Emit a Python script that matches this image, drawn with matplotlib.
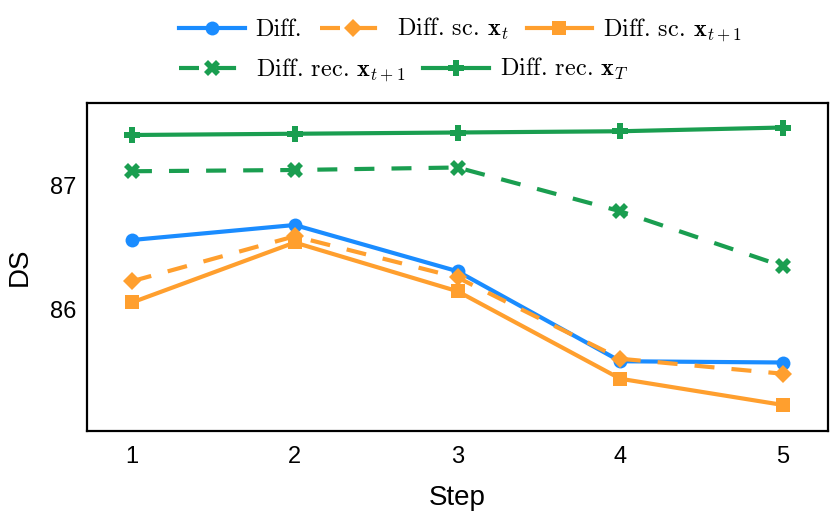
import matplotlib
matplotlib.use("Agg")
import matplotlib.pyplot as plt

steps = [1, 2, 3, 4, 5]
diff = [86.56, 86.68, 86.31, 85.59, 85.58]
diff_sc_xt = [86.23, 86.59, 86.26, 85.61, 85.49]
diff_sc_xt1 = [86.06, 86.54, 86.15, 85.45, 85.24]
diff_rec_xt1 = [87.11, 87.12, 87.14, 86.79, 86.35]
diff_rec_xT = [87.40, 87.41, 87.42, 87.43, 87.46]
yticks = [86, 87]

labels = [r'Diff.',
          r'Diff. sc. $\mathbf{x}_t$',
          r'Diff. sc. $\mathbf{x}_{t+1}$',
          r'Diff. rec. $\mathbf{x}_{t+1}$',
          r'Diff. rec. $\mathbf{x}_T$']

plt.rcParams['font.family'] = ['Liberation Sans', 'DejaVu Sans']
plt.rcParams['mathtext.fontset'] = 'cm'

blue = '#1A8CFF'
orange = '#FF9F2E'
green = '#1A9E50'
lw = 3
dash = (4.8, 4.1)

fig = plt.figure(figsize=(8.3, 5.2), dpi=100)
ax = fig.add_axes([87/830, 1-431/520, (828-87)/830, (431-103)/520])

series = [
    (diff, blue, '-', 'o', 10),
    (diff_sc_xt, orange, '--', 'D', 9.5),
    (diff_sc_xt1, orange, '-', 's', 10),
    (diff_rec_xt1, green, '--', 'X', 11),
    (diff_rec_xT, green, '-', 'P', 12),
]
handles = []
for (vals, c, ls, m, ms), lab in zip(series, labels):
    ln, = ax.plot(steps, vals, color=c, linestyle=ls, marker=m, markersize=ms,
                  linewidth=lw, label=lab, markeredgewidth=0)
    if ls == '--':
        ln.set_dashes(dash)
    handles.append(ln)

ax.set_xlim(0.724, 5.276)
ax.set_ylim(85.032, 87.656)
ax.set_xticks(steps)
ax.set_yticks(yticks)
ax.tick_params(axis='both', length=0, labelsize=17)
ax.tick_params(axis='x', pad=11)
ax.tick_params(axis='y', pad=8)
for s in ax.spines.values():
    s.set_linewidth(1.6)
    s.set_color('black')
ax.set_xlabel('Step', fontsize=20, labelpad=12)
ax.set_ylabel('DS', fontsize=20, labelpad=12)

kw = dict(frameon=False, prop={'family': 'cmr10', 'size': 17.5},
          handlelength=2.7, handletextpad=0.45,
          columnspacing=0.75, borderpad=0, borderaxespad=0, loc='center left')
leg1 = fig.legend(handles[:3], labels[:3], ncol=3,
                  bbox_to_anchor=(179/830, 1-30/520), **kw)
leg2 = fig.legend(handles[3:], labels[3:], ncol=2,
                  bbox_to_anchor=(179/830, 1-70/520), **kw)

fig.savefig('out.png', dpi=100)
